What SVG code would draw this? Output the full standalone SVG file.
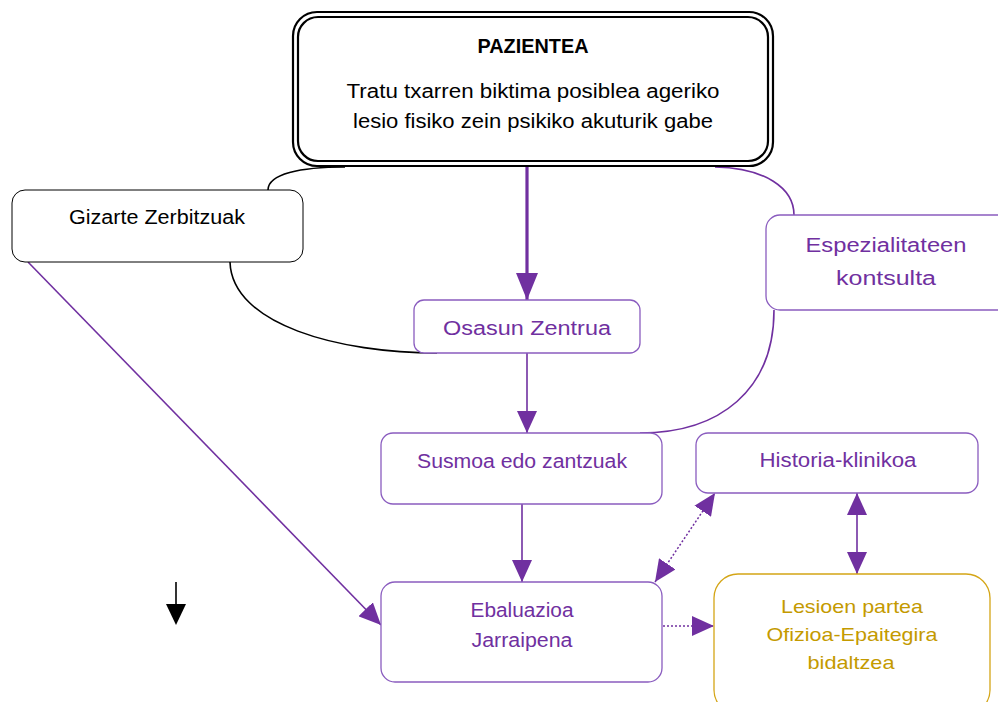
<svg xmlns="http://www.w3.org/2000/svg" width="998" height="702" viewBox="0 0 998 702">
<defs>
<style>
text{font-family:"Liberation Sans",Arial,sans-serif;text-anchor:middle}
.blk{fill:#000;font-size:20px}
.pur{fill:#7030a0;font-size:20px}
.gold{fill:#c49a00;font-size:19px}
.bx{fill:#fff;stroke:#000;stroke-width:1}
.pbx{fill:#fff;stroke:#8a5cbf;stroke-width:1.3}
.gbx{fill:#fff;stroke:#d4a516;stroke-width:1.3}
.pl{fill:none;stroke:#7030a0;stroke-width:1.6}
.bl{fill:none;stroke:#000;stroke-width:1.6}
.dot{fill:none;stroke:#7030a0;stroke-width:1.5;stroke-dasharray:2 2}
</style>
<marker id="ahs" viewBox="0 0 10 10" refX="10" refY="5" markerWidth="22" markerHeight="20" markerUnits="userSpaceOnUse" orient="auto-start-reverse" preserveAspectRatio="none">
<path d="M0,0 L10,5 L0,10 z" fill="#7030a0"/>
</marker>
<marker id="ahb" viewBox="0 0 10 10" refX="10" refY="5" markerWidth="27" markerHeight="22" markerUnits="userSpaceOnUse" orient="auto" preserveAspectRatio="none">
<path d="M0,0 L10,5 L0,10 z" fill="#7030a0"/>
</marker>
</defs>
<rect width="998" height="702" fill="#fff"/>
<g id="connectors">
<path class="bl" d="M268,190 C268,174 300,167 345,167"/>
<path class="bl" d="M230,262 C232,325 340,353 437,353"/>
<path class="pl" d="M715,167 C765,168 794,188 794,215"/>
<path class="pl" d="M774,310 C774,390 720,433 640,433"/>
<path d="M527,166 L527,300" stroke="#7030a0" stroke-width="3.2" fill="none" marker-end="url(#ahb)"/>
<path class="pl" d="M527,353 L527,433" marker-end="url(#ahs)"/>
<path class="pl" d="M522,504 L522,582" marker-end="url(#ahs)"/>
<path class="pl" d="M28,262 L381,625" marker-end="url(#ahs)"/>
<path class="dot" d="M655,582 L715,493" marker-start="url(#ahs)" marker-end="url(#ahs)"/>
<path class="pl" d="M857,493 L857,574" marker-start="url(#ahs)" marker-end="url(#ahs)"/>
<path class="dot" d="M663,626 L714,626" marker-end="url(#ahs)"/>
<path d="M176,582 L176,604" stroke="#000" stroke-width="1.6"/>
<path d="M166,604 L186,604 L176,625 z" fill="#000"/>
</g>
<g id="pazientea">
<rect x="293" y="12" width="480" height="154" rx="24" fill="#fff" stroke="#000" stroke-width="2.2"/>
<rect x="298" y="17" width="470" height="144" rx="20" fill="none" stroke="#000" stroke-width="2.2"/>
<text class="blk" x="533" y="53" font-weight="bold" font-size="18" textLength="111" lengthAdjust="spacingAndGlyphs">PAZIENTEA</text>
<text class="blk" x="533" y="98" textLength="373" lengthAdjust="spacingAndGlyphs">Tratu txarren biktima posiblea ageriko</text>
<text class="blk" x="533" y="128" textLength="360" lengthAdjust="spacingAndGlyphs">lesio fisiko zein psikiko akuturik gabe</text>
</g>
<g id="gizarte">
<rect class="bx" x="12" y="190" width="291" height="72" rx="13"/>
<text class="blk" x="157" y="224" font-size="19" textLength="176" lengthAdjust="spacingAndGlyphs">Gizarte Zerbitzuak</text>
</g>
<g id="osasun">
<rect class="pbx" x="414" y="300" width="226" height="53" rx="10"/>
<text class="pur" x="527" y="335" font-size="21" textLength="168" lengthAdjust="spacingAndGlyphs">Osasun Zentrua</text>
</g>
<g id="espezialitateen">
<rect class="pbx" x="766" y="215" width="250" height="95" rx="14"/>
<text class="pur" x="886" y="252" font-size="22" textLength="161" lengthAdjust="spacingAndGlyphs">Espezialitateen</text>
<text class="pur" x="886" y="285" font-size="22" textLength="100" lengthAdjust="spacingAndGlyphs">kontsulta</text>
</g>
<g id="susmoa">
<rect class="pbx" x="381" y="433" width="281" height="71" rx="12"/>
<text class="pur" x="522" y="468" font-size="19" textLength="210" lengthAdjust="spacingAndGlyphs">Susmoa edo zantzuak</text>
</g>
<g id="historia">
<rect class="pbx" x="696" y="433" width="282" height="60" rx="12"/>
<text class="pur" x="838" y="467" font-size="19" textLength="157" lengthAdjust="spacingAndGlyphs">Historia-klinikoa</text>
</g>
<g id="ebaluazioa">
<rect class="pbx" x="381" y="582" width="281" height="100" rx="14"/>
<text class="pur" x="522" y="617" font-size="19" textLength="103" lengthAdjust="spacingAndGlyphs">Ebaluazioa</text>
<text class="pur" x="522" y="647" font-size="19" textLength="101" lengthAdjust="spacingAndGlyphs">Jarraipena</text>
</g>
<g id="lesioen">
<rect class="gbx" x="714" y="574" width="276" height="140" rx="24"/>
<text class="gold" x="852" y="613" textLength="142" lengthAdjust="spacingAndGlyphs">Lesioen partea</text>
<text class="gold" x="852" y="641" textLength="171" lengthAdjust="spacingAndGlyphs">Ofizioa-Epaitegira</text>
<text class="gold" x="851" y="669" textLength="87" lengthAdjust="spacingAndGlyphs">bidaltzea</text>
</g>
</svg>
